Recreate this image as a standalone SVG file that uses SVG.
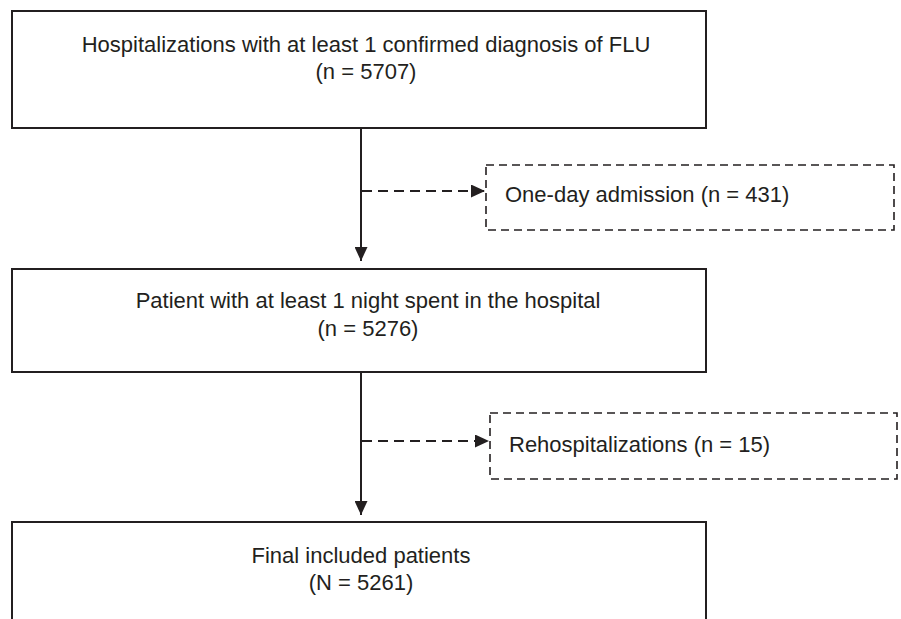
<svg xmlns="http://www.w3.org/2000/svg" width="901" height="619" viewBox="0 0 901 619">
  <defs>
    <style>
      .box { fill: #ffffff; stroke: #231f20; stroke-width: 2; }
      .dbox { fill: #ffffff; stroke: #231f20; stroke-width: 1.6; stroke-dasharray: 8 5; }
      .txt { font-family: "Liberation Sans", Arial, sans-serif; font-size: 22px; fill: #231f20; }
      .mid { text-anchor: middle; }
      .solid { stroke: #231f20; stroke-width: 2; fill: none; }
      .dash { stroke: #231f20; stroke-width: 2; fill: none; stroke-dasharray: 10 6; }
    </style>
    <marker id="ah" markerWidth="14" markerHeight="13" refX="14" refY="6.5" orient="auto" markerUnits="userSpaceOnUse">
      <path d="M0,0 L14,6.5 L0,13 Z" fill="#231f20"/>
    </marker>
  </defs>
  <rect width="901" height="619" fill="#ffffff"/>

  <g id="connectors">
    <line class="solid" x1="361" y1="129" x2="361" y2="261" marker-end="url(#ah)"/>
    <line class="dash" x1="362" y1="191" x2="485" y2="191" marker-end="url(#ah)"/>
    <line class="solid" x1="361" y1="373" x2="361" y2="515" marker-end="url(#ah)"/>
    <line class="dash" x1="362" y1="441" x2="489" y2="441" marker-end="url(#ah)"/>
  </g>

  <g id="node-hospitalizations">
    <rect class="box" x="12" y="11" width="694" height="117"/>
    <text class="txt mid" x="366" y="52">Hospitalizations with at least 1 confirmed diagnosis of FLU</text>
    <text class="txt mid" x="366" y="79">(n = 5707)</text>
  </g>

  <g id="node-one-day">
    <rect class="dbox" x="486" y="165" width="408" height="65"/>
    <text class="txt" x="505" y="202">One-day admission (n = 431)</text>
  </g>

  <g id="node-patient">
    <rect class="box" x="12" y="269" width="694" height="103"/>
    <text class="txt mid" x="368" y="308">Patient with at least 1 night spent in the hospital</text>
    <text class="txt mid" x="368" y="336">(n = 5276)</text>
  </g>

  <g id="node-rehospitalizations">
    <rect class="dbox" x="490" y="413" width="407" height="66"/>
    <text class="txt" x="509" y="452">Rehospitalizations (n = 15)</text>
  </g>

  <g id="node-final">
    <rect class="box" x="12" y="522" width="694" height="120"/>
    <text class="txt mid" x="361" y="563">Final included patients</text>
    <text class="txt mid" x="361" y="590">(N = 5261)</text>
  </g>
</svg>
